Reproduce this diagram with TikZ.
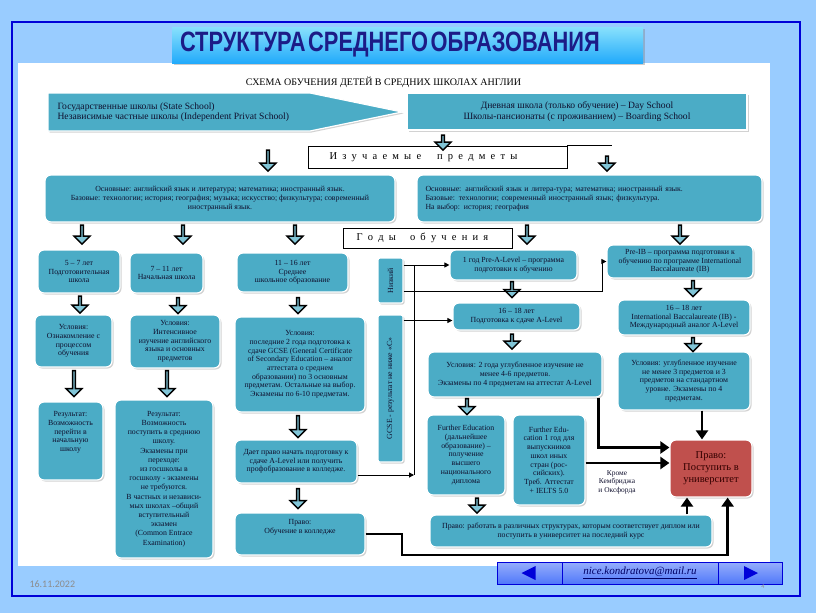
\documentclass[tikz,border=0pt]{standalone}
\usepackage{fontspec}
\setmainfont{Liberation Serif}
\newfontfamily\headfont{Liberation Sans}
\newfontfamily\datefont{Carlito}
\usetikzlibrary{shapes.arrows,shadows,calc,arrows.meta}

\definecolor{boxcol}{RGB}{75,172,198}
\definecolor{txtcol}{RGB}{15,15,45}
\definecolor{unicol}{RGB}{192,80,77}
\definecolor{bgcol}{RGB}{153,204,255}
\definecolor{framecol}{RGB}{0,0,215}
\definecolor{titlecol}{RGB}{40,200,250}
\definecolor{titletxt}{RGB}{28,28,135}
\definecolor{navcol}{RGB}{80,120,250}

\tikzset{
  base/.style={fill=boxcol, draw=white, line width=1.2pt, text=txtcol, align=center,
    inner sep=1pt, font=\fontsize{7.8}{8.7}\selectfont,
    drop shadow={shadow xshift=1.5pt, shadow yshift=-1.5pt, opacity=0.35}},
  box/.style={base, rounded corners=6pt},
  toptxt/.style={font=\fontsize{9.6}{10.5}\selectfont, text=txtcol},
  labbox/.style={draw=black, line width=0.8pt, fill=white, inner sep=0pt,
    font=\fontsize{10.5}{10.5}\selectfont,
    drop shadow={shadow xshift=1pt, shadow yshift=-1pt, opacity=0.6}},
  barr/.style={single arrow, rotate=-90, draw=black, line width=1.4pt, fill=boxcol!70!white,
    minimum width=16pt, single arrow head extend=3.5pt, inner sep=0pt},
  bus/.style={draw=black, line width=1pt},
  busarr/.style={bus, -{Triangle[length=5pt,width=5pt]}},
  bigarr/.style={draw=black, line width=2.4pt, -{Triangle[length=9pt,width=12pt]}},
  navbtn/.style={top color=navcol!60!white, bottom color=navcol, draw=blue!85!black, line width=1pt}
}

\begin{document}
\begin{tikzpicture}[x=1pt, y=-1pt]
    % Page
    \useasboundingbox (0,0) rectangle (816,613);
    \fill[bgcol] (0,0) rectangle (816,613);
    \draw[framecol, line width=2.5pt] (12,22) rectangle (800,596);
    \fill[white] (18,63) rectangle (770,566);

    % Title
    \node[top color=titlecol!55!white, bottom color=titlecol!85!blue, minimum width=471, minimum height=36,
      text width=455, align=left, inner sep=0pt, text=titletxt,
      drop shadow={shadow xshift=2pt, shadow yshift=-2pt, opacity=0.4}] (title) at (407.5,45)
      {\scalebox{0.78}[1]{\headfont\bfseries\fontsize{28}{28}\selectfont СТРУКТУРА СРЕДНЕГО ОБРАЗОВАНИЯ}};
    \node[font=\fontsize{10}{10}\selectfont] (scheme) at (383.5,82) {СХЕМА ОБУЧЕНИЯ ДЕТЕЙ В СРЕДНИХ ШКОЛАХ АНГЛИИ};

    % Schools
    \path[base] (48,93) -- (310,93) -- (402,112) -- (310,131) -- (48,131) -- cycle;
    \node[toptxt, anchor=west, align=left] (state) at (54,112)
      {Государственные школы (State School)\\Независимые частные школы (Independent Privat School)};
    \node[base, toptxt, minimum width=340, minimum height=37] (day) at (577,111.5)
      {Дневная школа (только обучение) – Day School\\Школы-пансионаты (с проживанием) – Boarding School};

    % Subjects
    \node[labbox, minimum width=259, minimum height=22] (learn) at (437.5,157)
      {{\spaceskip=5.2pt\relax И з у ч а е м ы е}\hspace{16pt}{\spaceskip=5.2pt\relax п р е д м е т ы}\hspace*{28pt}};
    \draw[line width=0.8pt] (learn.north east) -- ++(45,0);
    \node[box, minimum width=350, minimum height=47] (subjl) at (220,198.5)
      {Основные: английский язык и литература; математика; иностранный язык.\\
       Базовые: технологии; история; география; музыка; искусство; физкультура; современный\\
       иностранный язык.};
    \node[box, minimum width=345, minimum height=47, text width=328, align=left] (subjr) at (589.5,198.5)
      {Основные: английский язык и литера-тура; математика; иностранный язык.\\
       Базовые: технологии; современный иностранный язык; физкультура.\\
       На выбор: история; география};
    \node[labbox, minimum width=169, minimum height=20] (years) at (427.5,238)
      {{\spaceskip=5.2pt\relax Г о д ы}\hspace{14pt}{\spaceskip=5.2pt\relax о б у ч е н и я}\hspace*{10pt}};

    % Left columns
    \node[box, minimum width=82, minimum height=43] (prep) at (79,271.5) {5 – 7 лет\\Подготовительная\\школа};
    \node[box, minimum width=73, minimum height=40] (prim) at (166.5,273) {7 – 11 лет\\Начальная школа};
    \node[box, minimum width=111, minimum height=39] (sec) at (292.5,272.5) {11 – 16 лет\\Среднее\\школьное образование};
    \node[box, minimum width=77, minimum height=52] (cond1) at (73.5,341) {Условия:\\Ознакомление с\\процессом\\обучения};
    \node[box, minimum width=90, minimum height=53] (cond2) at (175,341.5)
      {Условия:\\Интенсивное\\изучение английского\\языка и основных\\предметов};
    \node[box, minimum width=130, minimum height=95] (cond3) at (300,364.5)
      {Условия:\\последние 2 года подготовка к\\сдаче GCSE (General Certificate\\of Secondary Education – аналог\\
       аттестата о среднем\\образовании) по 3 основным\\предметам. Остальные на выбор.\\Экзамены по 6-10 предметам.};
    \node[box, minimum width=65, minimum height=78] (res1) at (70.5,441)
      {Результат:\\Возможность\\перейти в\\начальную\\школу\\[10pt]};
    \node[box, minimum width=98, minimum height=158, font=\fontsize{7.8}{9.2}\selectfont] (res2) at (164,479)
      {Результат:\\Возможность\\поступить в среднюю\\школу.\\Экзамены при\\переходе:\\из госшколы в\\
       госшколу - экзамены\\не требуются.\\В частных и независи-\\мых школах –общий\\вступительный\\экзамен\\
       (Common Entrace\\Examination)};
    \node[box, minimum width=122, minimum height=43] (right) at (296,461.5)
      {Дает право начать подготовку к\\сдаче A-Level или получить\\профобразование в колледже.};
    \node[box, minimum width=130, minimum height=42] (college) at (300,534) {Право:\\Обучение в колледже\\[6pt]};

    % GCSE
    \node[base, rounded corners=2pt, minimum width=25, minimum height=45] (low) at (390.5,280.5) {\rotatebox{90}{Низкий}};
    \node[base, rounded corners=2pt, minimum width=25, minimum height=147] (gcse) at (390.5,388.5)
      {\rotatebox{90}{GCSE - результат не ниже «С»}};

    % A-Level
    \node[box, minimum width=127, minimum height=30] (prea) at (513.5,265) {1 год Pre-A-Level – программа\\подготовки к обучению};
    \node[box, minimum width=127, minimum height=27] (alev) at (516.5,316.5) {16 – 18 лет\\Подготовка к сдаче A-Level};
    \node[box, minimum width=174, minimum height=45] (acond) at (515,374.5)
      {Условия: 2 года углубленное изучение не\\менее 4-6 предметов.\\Экзамены по 4 предметам на аттестат A-Level};
    \node[box, minimum width=78, minimum height=80] (fe) at (466,455)
      {Further Education\\(дальнейшее\\образование) –\\получение\\высшего\\национального\\диплома};
    \node[box, minimum width=72, minimum height=90] (fe1) at (549,460)
      {Further Edu-\\cation 1 год для\\выпускников\\школ иных\\стран (рос-\\сийских).\\Треб. Аттестат\\+ IELTS 5.0};
    \node[box, minimum width=282, minimum height=32] (work) at (571,531)
      {Право: работать в различных структурах, которым соответствует диплом или\\поступить в университет на последний курс};
    \node[box, fill=unicol, minimum width=82, minimum height=57, text=black!80!red,
      font=\fontsize{10.5}{12}\selectfont] (uni) at (711,468.5) {Право:\\Поступить в\\университет};
    \node[font=\fontsize{7.4}{8.6}\selectfont, text=txtcol, align=center] (except) at (617,482) {Кроме\\Кембриджа\\и Оксфорда};

    % IB
    \node[box, minimum width=146, minimum height=33] (preib) at (680,261.5)
      {Pre-IB – программа подготовки к\\обучению по программе International\\Baccalaureate (IB)};
    \node[box, minimum width=132, minimum height=35] (ib) at (684,317.5)
      {16 – 18 лет\\International Baccalaureate (IB) -\\Международный аналог A-Level};
    \node[box, minimum width=132, minimum height=58] (ibcond) at (684,381)
      {Условия: углубленное изучение\\не менее 3 предметов и 3\\предметов на стандартном\\уровне. Экзамены по 4\\предметам.};

    % Block arrows
    \node[barr, minimum height=21] (d1) at (268,160) {};
    \node[barr, minimum height=15] (d2) at (443,142) {};
    \node[barr, minimum height=15] (d3) at (607,163) {};
    \node[barr, minimum height=19] (d4) at (82,234) {};
    \node[barr, minimum height=19] (d5) at (183,234) {};
    \node[barr, minimum height=19] (d6) at (295,234) {};
    \node[barr, minimum height=19] (d7) at (527,234) {};
    \node[barr, minimum height=19] (d8) at (680,234) {};
    \node[barr, minimum height=17] (d9) at (80,304) {};
    \node[barr, minimum height=16] (d10) at (178,305) {};
    \node[barr, minimum height=16] (d11) at (298,305) {};
    \node[barr, minimum height=26] (d12) at (74,383) {};
    \node[barr, minimum height=26] (d13) at (167,383) {};
    \node[barr, minimum height=22] (d14) at (298,426) {};
    \node[barr, minimum height=20] (d15) at (298,498) {};
    \node[barr, minimum height=16] (d16) at (512,289) {};
    \node[barr, minimum height=15] (d17) at (512,341) {};
    \node[barr, minimum height=16] (d18) at (467,406) {};
    \node[barr, minimum height=15] (d19) at (477,505) {};
    \node[barr, minimum height=16] (d20) at (693,288) {};
    \node[barr, minimum height=14] (d21) at (693,344) {};

    % Routes after GCSE
    \coordinate (bustop) at (414,265);
    \coordinate (busend) at (414,475);
    \coordinate (rj) at ($(right.east)+(0,13.5)$);
    \coordinate (lj) at ($(low.east)+(0,10.5)$);
    \coordinate (ibj) at ($(preib.west)+(-4,0)$);
    \coordinate (gj) at ($(alev.west)+(0,4)$);
    \draw[bus] (bustop) -- (busend);
    \draw[busarr] (rj) -- (rj -| busend);
    \draw[busarr] (low.east |- prea.west) -- (prea.west);
    \draw[busarr] (lj) -| (ibj) -- (preib.west);
    \draw[busarr] (gj -| gcse.east) -- (gj);

    % To university
    \coordinate (turn) at (402,555);
    \coordinate (uj) at ($(uni.south east)+(-25,0)$);
    \coordinate (aj) at ($(acond.south east)+(-4,0)$);
    \coordinate (fj) at ($(fe1.east)+(0,3)$);
    \coordinate (wj) at ($(uni.south)+(-24,0)$);
    \coordinate (ij) at ($(ibcond.south)+(18,0)$);
    \draw[bigarr] (college.east) -| (turn) -| (uj);
    \draw[bigarr] (aj) |- ($(uni.west)+(0,-21)$);
    \draw[bigarr] (fj) -- (fj -| uni.west);
    \draw[bigarr] (ij) -- (ij |- uni.north);
    \draw[bigarr] (wj |- work.north) -- (wj);

    % Footer
    \node[font=\datefont\fontsize{10}{10}\selectfont, text=black!45, anchor=west] (date) at (26,584) {16.11.2022};
    \node[navbtn, minimum width=65, minimum height=22] (navl) at (529.5,573) {};
    \node[navbtn, minimum width=156, minimum height=22, inner sep=0pt] (mail) at (640,573)
      {\color{blue!40!black}\itshape\fontsize{11}{11}\selectfont\underline{nice.kondratova@mail.ru}};
    \node[navbtn, minimum width=64, minimum height=22] (navr) at (750,573) {};
    \fill[blue!85!black] ($(navl.center)+(-8,0)$) -- ++(14,-7) -- ++(0,14) -- cycle;
    \fill[blue!85!black] ($(navr.center)+(8,0)$) -- ++(-14,-7) -- ++(0,14) -- cycle;
    \node[font=\datefont\fontsize{6}{6}\selectfont, text=black!45] (page) at (763,587) {4};
\end{tikzpicture}
\end{document}
